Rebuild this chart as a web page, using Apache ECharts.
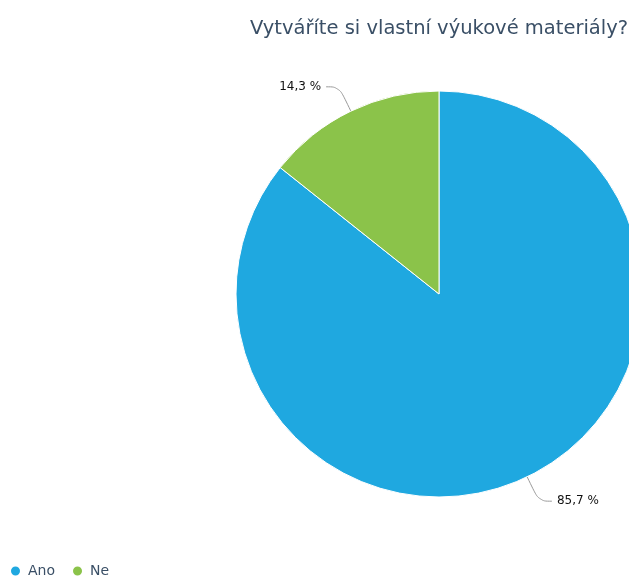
<!DOCTYPE html>
<html>
<head>
<meta charset="utf-8">
<script src="https://cdn.jsdelivr.net/npm/echarts@6/dist/echarts.min.js"></script>
<style>
  html, body { margin: 0; padding: 0; background: #fff; }
  #echart { width: 629px; height: 577px; }
</style>
</head>
<body>
<div id="echart"></div>
<script>
var categories = ['Ano', 'Ne'];
var values = [85.7, 14.3];
var colors = ['#1fa8e0', '#8bc34a'];

var myChart = echarts.init(document.getElementById('echart'));
var option = {
    textStyle: { fontFamily: 'DejaVu Sans' },
    title: {
        text: 'Vytváříte si vlastní výukové materiály?',
        left: 434,
        textAlign: 'center',
        top: 14,
        textStyle: {
            fontFamily: 'DejaVu Sans',
            fontSize: 19.5,
            fontWeight: 'normal',
            color: '#3a4f66'
        }
    },
    legend: {
        left: 4,
        top: 559,
        icon: 'circle',
        itemWidth: 11,
        itemHeight: 11,
        itemGap: 16,
        textStyle: {
            fontFamily: 'DejaVu Sans',
            fontSize: 14,
            color: '#3a4f66',
            padding: [0, 0, 0, 2]
        },
        data: categories
    },
    color: colors,
    series: [
        {
            type: 'pie',
            center: [439, 294],
            radius: 203,
            startAngle: 90,
            clockwise: true,
            animation: false,
            itemStyle: { borderColor: '#fff', borderWidth: 1 },
            label: {
                show: true,
                formatter: function (p) { return p.value.toFixed(1).replace('.', ',') + ' %'; },
                fontFamily: 'DejaVu Sans',
                fontSize: 12,
                color: '#111'
            },
            labelLine: {
                show: true,
                smooth: 0.4,
                length: 27,
                length2: 13,
                lineStyle: { color: '#999', width: 1 }
            },
            data: categories.map(function (c, i) {
                return { name: c, value: values[i] };
            })
        }
    ]
};
myChart.setOption(option);
</script>
</body>
</html>
